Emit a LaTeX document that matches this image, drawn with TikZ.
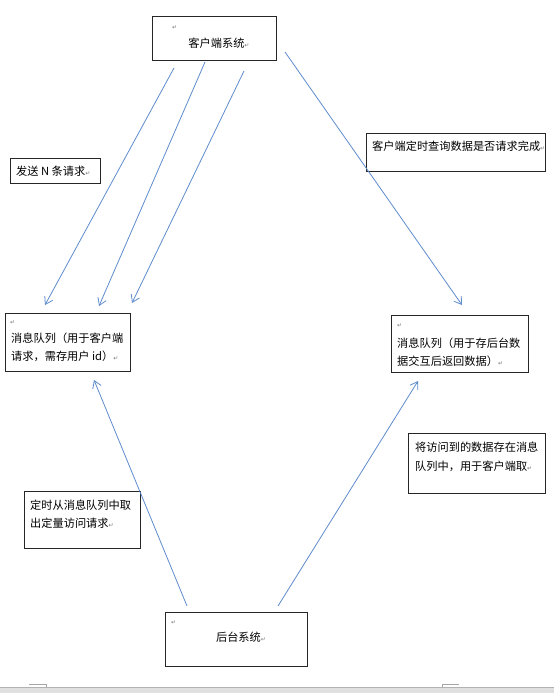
\documentclass[tikz,border=0pt]{standalone}
\usepackage{fontspec}
\setmainfont{Noto Sans CJK SC}
\newfontfamily\symfont{DejaVu Sans}
\usetikzlibrary{arrows.meta}
\definecolor{arrowblue}{RGB}{95,140,205}
\definecolor{markgray}{RGB}{120,120,120}
\newcommand{\retmark}{{\symfont\color{markgray}\fontsize{6}{6}\selectfont ↵}}
\tikzset{
  boxframe/.style={draw=black!85, line width=0.9pt, fill=white},
  txt/.style={anchor=west, inner sep=0pt, font=\fontsize{11.2}{12}\selectfont},
  conn/.style={draw=arrowblue, line width=0.8pt, -{Straight Barb[length=7pt,width=9pt]}}
}
\begin{document}
\begin{tikzpicture}[x=1pt,y=-1pt]
\useasboundingbox (0,0) rectangle (554,693);
\fill[white] (0,0) rectangle (554,693);
% bottom strip
\fill[black!12] (0,687) rectangle (554,693);
\draw[black!30, line width=0.6pt] (0,687) -- (554,687);
\draw[black!35, line width=0.6pt] (29,684) -- (46,684) -- (46,687);
\draw[black!35, line width=0.6pt] (459,684) -- (442,684) -- (442,687);

% boxes
\node[boxframe, minimum width=124pt, minimum height=44pt, anchor=north west] (client) at (152,16) {};
\node[txt, anchor=center] (clientT) at (219,43) {客户端系统\retmark};
\node[txt] (clientR) at (172,28) {\retmark};

\node[boxframe, minimum width=90pt, minimum height=25pt, anchor=north west] (send) at (10,158) {};
\node[txt] (sendT) at (16,171) {发送 N 条请求\retmark};

\node[boxframe, minimum width=179pt, minimum height=38pt, anchor=north west] (poll) at (366,133) {};
\node[txt] (pollT) at (372,146) {客户端定时查询数据是否请求完成\retmark};

\node[boxframe, minimum width=125pt, minimum height=58pt, anchor=north west] (lq) at (5,313) {};
\node[txt] (lqR) at (10,323) {\retmark};
\node[txt] (lq1) at (11,338) {消息队列（用于客户端};
\node[txt] (lq2) at (11,356) {请求，需存用户 id）\retmark};

\node[boxframe, minimum width=137pt, minimum height=57pt, anchor=north west] (rq) at (391,315) {};
\node[txt] (rqR) at (397,326) {\retmark};
\node[txt] (rq1) at (397,343) {消息队列（用于存后台数};
\node[txt] (rq2) at (397,361) {据交互后返回数据）\retmark};

\node[boxframe, minimum width=137pt, minimum height=60pt, anchor=north west] (store) at (408,433) {};
\node[txt] (store1) at (415,447) {将访问到的数据存在消息};
\node[txt] (store2) at (415,466) {队列中，用于客户端取\retmark};

\node[boxframe, minimum width=116pt, minimum height=57pt, anchor=north west] (fetch) at (24,491) {};
\node[txt] (fetch1) at (30,505) {定时从消息队列中取};
\node[txt] (fetch2) at (30,523) {出定量访问请求\retmark};

\node[boxframe, minimum width=142pt, minimum height=54pt, anchor=north west] (back) at (165,612) {};
\node[txt] (backR) at (171,623) {\retmark};
\node[txt, anchor=center] (backT) at (241,637) {后台系统\retmark};

% connectors
\coordinate (c1) at (174,68); \coordinate (l1) at (45,305);
\coordinate (c2) at (205,62); \coordinate (l2) at (99,306);
\coordinate (c3) at (244,71); \coordinate (l3) at (132,303);
\coordinate (c4) at (285,52); \coordinate (r1) at (462,305);
\coordinate (b1) at (187,606); \coordinate (l4) at (94,380);
\coordinate (b2) at (278,606); \coordinate (r2) at (418,381);
\draw[conn] (c1) -- (l1);
\draw[conn] (c2) -- (l2);
\draw[conn] (c3) -- (l3);
\draw[conn] (c4) -- (r1);
\draw[conn] (b1) -- (l4);
\draw[conn] (b2) -- (r2);
\end{tikzpicture}
\end{document}
